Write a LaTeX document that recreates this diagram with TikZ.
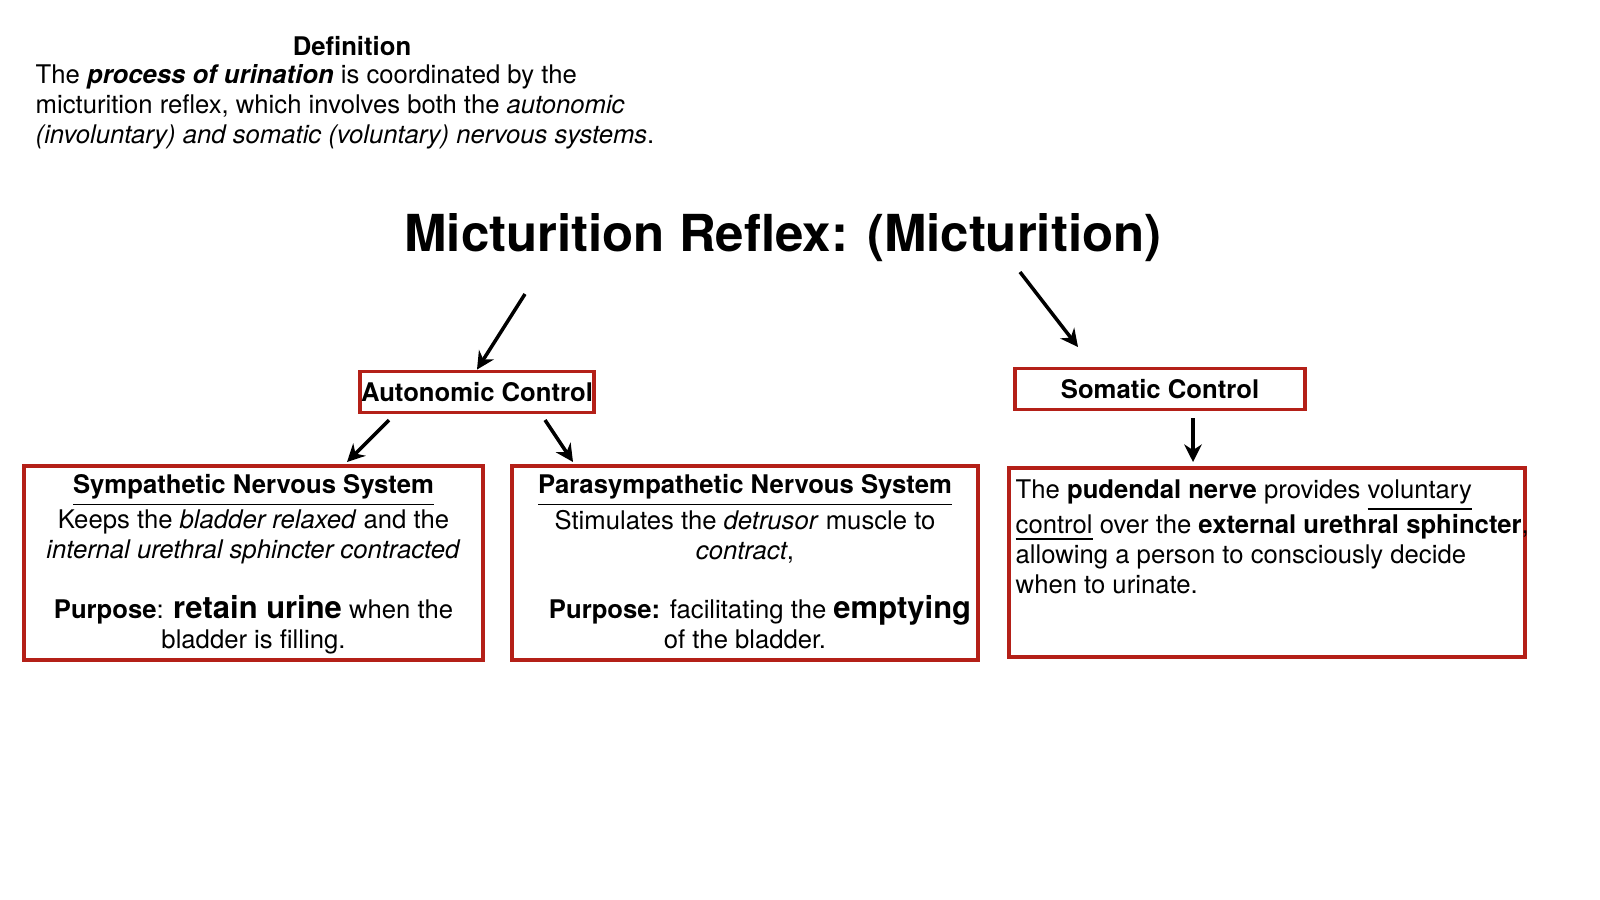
\documentclass[tikz,border=0pt]{standalone}
\usepackage{fontspec}
\setmainfont{TeX Gyre Heros}
\usetikzlibrary{positioning, arrows.meta}
\definecolor{boxred}{RGB}{180,32,24}
\newcommand{\txt}{\fontsize{7.3}{8.5}\selectfont}
\newcommand{\bigtxt}{\fontsize{8.8}{8.5}\selectfont}
\tikzset{
  frame/.style={draw=boxred, line width=1.1pt, inner sep=0pt},
  body/.style={inner sep=0pt, font=\txt},
  link/.style={-{Stealth[length=5pt,width=5pt]}, line width=1pt}
}
\begin{document}
\begin{tikzpicture}[x=0.01cm, y=-0.01cm]
\useasboundingbox (0,0) rectangle (1600,899);

% Definition
\node[body, font=\txt\bfseries] (defhead) at (352,46) {Definition};
\node[body, anchor=north west, align=left] (deftext) at (35,64)
  {The \textbf{\textit{process of urination}} is coordinated by the\\
   micturition reflex, which involves both the \textit{autonomic}\\
   \textit{(involuntary) and somatic (voluntary) nervous systems}.};

% Title
\node[inner sep=0pt, font=\fontsize{14.5}{16}\selectfont\bfseries] (title) at (783,238)
  {Micturition Reflex: (Micturition)};

% Control boxes
\node[frame, font=\txt\bfseries, minimum width=2.34cm, minimum height=0.41cm] (auto) at (477,392) {Autonomic Control};
\node[frame, font=\txt\bfseries, minimum width=2.90cm, minimum height=0.41cm] (soma) at (1160,389) {Somatic Control};

% Detail boxes
\node[frame, minimum width=4.59cm, minimum height=1.94cm] (symp) at (253.5,563) {};
\node[frame, minimum width=4.66cm, minimum height=1.94cm] (para) at (745,563) {};
\node[frame, minimum width=5.16cm, minimum height=1.89cm] (pud) at (1267,562.5) {};

\node[body, anchor=north, align=center] (symptext) at ([yshift=-0.1cm]symp.north)
  {\textbf{\underline{Sympathetic Nervous System}}\\
   Keeps the \textit{bladder relaxed} and the\\
   \textit{internal urethral sphincter contracted}\\[8.5pt]
   \textbf{Purpose}: {\bigtxt\textbf{retain urine}} when the\\
   bladder is filling.};
\node[body, anchor=north, align=center] (paratext) at ([yshift=-0.1cm]para.north)
  {\textbf{\underline{Parasympathetic Nervous System}}\\
   Stimulates the \textit{detrusor} muscle to\\
   \textit{contract},\\[8.5pt]
   \hspace*{0.3cm}\textbf{Purpose:} facilitating the {\bigtxt\textbf{emptying}}\\
   of the bladder.};
\node[body, anchor=north west, align=left] (pudtext) at (1015,479)
  {The \textbf{pudendal nerve} provides \underline{voluntary}\\
   \underline{control} over the \textbf{external urethral sphincter},\\
   allowing a person to consciously decide\\
   when to urinate.};

% Arrows
\coordinate (a1) at (525,294);
\coordinate (a2) at (1020,272);
\coordinate (b2) at (1078,347);
\coordinate (a3) at (389,420);
\coordinate (b3) at (347,462);
\coordinate (a4) at (545,420);
\coordinate (b4) at (573,462);
\coordinate (a5) at (1193,418);
\coordinate (b5) at (1193,462);
\draw[link] (a1) -- (auto.north);
\draw[link] (a2) -- (b2);
\draw[link] (a3) -- (b3);
\draw[link] (a4) -- (b4);
\draw[link] (a5) -- (b5);
\end{tikzpicture}
\end{document}
